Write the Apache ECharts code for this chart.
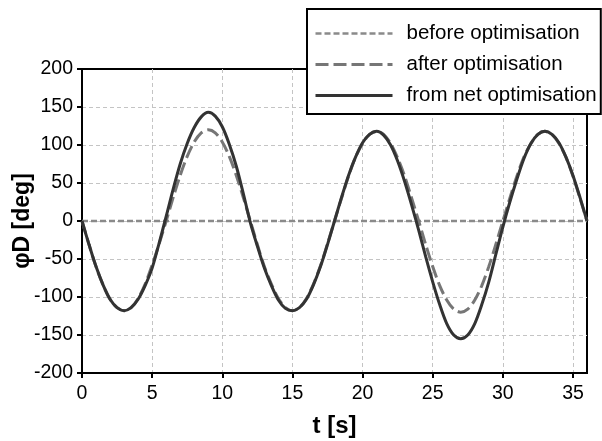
<!DOCTYPE html>
<html>
<head>
<meta charset="utf-8">
<script src="https://cdn.jsdelivr.net/npm/echarts@6/dist/echarts.min.js"></script>
<style>
  html, body { margin: 0; padding: 0; background: #fff; }
  #chart-container { width: 602px; height: 441px; }
</style>
</head>
<body>
<div id="chart-container"></div>
<script>
// time samples [s]
var times = [0,0.5,1,1.5,2,2.5,3,3.5,4,4.5,5,5.5,
             6,6.5,7,7.5,8,8.5,9,9.5,10,10.5,11,11.5,
             12,12.5,13,13.5,14,14.5,15,15.5,16,16.5,17,17.5,
             18,18.5,19,19.5,20,20.5,21,21.5,22,22.5,23,23.5,
             24,24.5,25,25.5,26,26.5,27,27.5,28,28.5,29,29.5,
             30,30.5,31,31.5,32,32.5,33,33.5,34,34.5,35,35.5,36];

// phi_D [deg]
var beforeOpt = [0,0,0,0,0,0,0,0,0,0,0,0,
                 0,0,0,0,0,0,0,0,0,0,0,0,
                 0,0,0,0,0,0,0,0,0,0,0,0,
                 0,0,0,0,0,0,0,0,0,0,0,0,
                 0,0,0,0,0,0,0,0,0,0,0,0,
                 0,0,0,0,0,0,0,0,0,0,0,0,0];
var afterOpt = [0,-31,-60,-84,-103,-114,-118,-114,-102,-83,-58,-30,
                0,31,60,85,104,116,120,116,104,85,60,31,
                0,-31,-60,-83,-102,-114,-118,-114,-102,-83,-59,-30,
                0,30,59,84,102,114,118,114,102,83,59,30,
                0,-31,-60,-85,-104,-116,-120,-116,-104,-85,-60,-31,
                0,30,59,84,102,114,118,114,102,84,59,30,0];
var netOpt = [0,-31,-60,-84,-103,-114,-118,-114,-103,-85,-62,-29,
              6,42,75,102,123,137,143,138,124,101,72,36,
              -2,-33,-62,-85,-104,-115,-118,-114,-103,-84,-60,-31,
              0,31,60,84,103,114,118,113,100,79,52,21,
              -12,-47,-80,-110,-135,-150,-155,-150,-135,-110,-80,-44,
              -8,25,55,82,102,114,118,114,103,84,60,31,0];

var seriesNames = ['before optimisation', 'after optimisation', 'from net optimisation'];
var xTicks = [0,5,10,15,20,25,30,35];
var yTicks = [-200,-150,-100,-50,0,50,100,150,200];

var pairs = function (vals) {
    return times.map(function (t, i) { return [t, vals[i]]; });
};

var myChart = echarts.init(document.getElementById('chart-container'));

var FONT = 'Liberation Sans, Arial, sans-serif';
var labelFont = { color: '#000', fontFamily: FONT, fontSize: 19.5 };

var styles = [
    { color: '#8a8a8a', width: 2.5, type: [6, 3] },
    { color: '#767676', width: 3, type: [13, 5] },
    { color: '#333333', width: 3, type: 'solid' }
];

var option = {
    animation: false,
    backgroundColor: '#fff',
    grid: {
        left: 82, right: 15, top: 69, bottom: 68,
        outerBoundsMode: 'none',
        show: true, borderColor: '#000', borderWidth: 2
    },
    legend: {
        data: seriesNames.map(function (n, i) {
            return { name: n, itemStyle: { opacity: 0 }, lineStyle: styles[i] };
        }),
        orient: 'vertical',
        left: 307, top: 9,
        padding: [14, 4, 8, 7],
        itemWidth: 77, itemHeight: 14, itemGap: 10,
        backgroundColor: '#fff',
        borderColor: '#000', borderWidth: 2,
        textStyle: { color: '#000', fontFamily: FONT, fontSize: 20.5, padding: [0, 0, 0, 9] }
    },
    xAxis: {
        type: 'value', min: 0, max: 36, interval: 5,
        name: 't [s]', nameLocation: 'middle', nameGap: 41, nameMoveOverlap: false,
        nameTextStyle: { color: '#000', fontFamily: FONT, fontSize: 24, fontWeight: 'bold' },
        axisLine: { onZero: false, lineStyle: { color: '#000', width: 2 } },
        axisTick: { length: 5, lineStyle: { color: '#000', width: 2 } },
        axisLabel: Object.assign({ margin: 11, showMaxLabel: false,
            formatter: function (v) { return xTicks.indexOf(v) >= 0 ? String(v) : ''; } }, labelFont),
        splitLine: { showMinLine: false, showMaxLine: false,
            lineStyle: { color: '#c4c4c4', type: [4, 3], width: 1 } }
    },
    yAxis: {
        type: 'value', min: -200, max: 200, interval: 50,
        name: 'φD [deg]', nameLocation: 'middle', nameGap: 48, nameMoveOverlap: false,
        nameTextStyle: { color: '#000', fontFamily: FONT, fontSize: 23, fontWeight: 'bold' },
        axisLine: { onZero: false, lineStyle: { color: '#000', width: 2 } },
        axisTick: { length: 5, lineStyle: { color: '#000', width: 2 } },
        axisLabel: Object.assign({ margin: 9,
            formatter: function (v) { return yTicks.indexOf(v) >= 0 ? String(v) : ''; } }, labelFont),
        splitLine: { showMinLine: false, showMaxLine: false,
            lineStyle: { color: '#c4c4c4', type: [4, 3], width: 1 } }
    },
    series: [
        {
            name: seriesNames[0], type: 'line', data: pairs(beforeOpt),
            symbol: 'none', z: 3,
            lineStyle: styles[0], itemStyle: { color: styles[0].color }
        },
        {
            name: seriesNames[1], type: 'line', data: pairs(afterOpt),
            symbol: 'none', smooth: 0.3, z: 4,
            lineStyle: styles[1], itemStyle: { color: styles[1].color }
        },
        {
            name: seriesNames[2], type: 'line', data: pairs(netOpt),
            symbol: 'none', smooth: 0.3, z: 5,
            lineStyle: styles[2], itemStyle: { color: styles[2].color }
        }
    ]
};

myChart.setOption(option);
</script>
</body>
</html>
